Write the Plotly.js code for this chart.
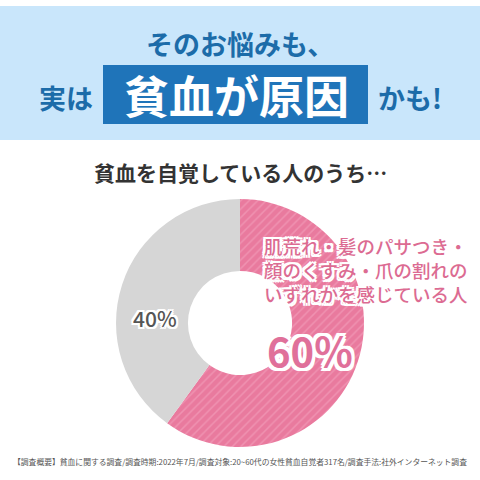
<!DOCTYPE html>
<html>
<head>
<meta charset="utf-8">
<script src="https://cdn.plot.ly/plotly-3.0.1.min.js"></script>
<style>
  html, body { margin: 0; padding: 0; background: #ffffff; }
  #chart { width: 480px; height: 480px; }
</style>
</head>
<body>
<div id="chart"></div>
<script>
// Survey result: share of self-aware anemia respondents feeling symptoms
const categories = [
  "肌荒れ・髪のパサつき・顔のくすみ・爪の割れのいずれかを感じている人",
  "その他"
];
const values = [60, 40];
const sliceColors = ["#e97a9e", "#d6d6d6"];
const symptomLines = ["肌荒れ・髪のパサつき・", "顔のくすみ・爪の割れの", "いずれかを感じている人"];

const headline1 = "そのお悩みも、";
const headlinePre = "実は";
const headlineKey = "貧血が原因";
const headlinePost = "かも!";
const subtitle = "貧血を自覚している人のうち…";
const footnote = "【調査概要】貧血に関する調査/調査時期:2022年7月/調査対象:20~60代の女性貧血自覚者317名/調査手法:社外インターネット調査";

const JP = "Noto Sans CJK JP, Noto Sans, sans-serif";
const outline = (w, c) => [
  `${w}px 0 0 ${c}`, `-${w}px 0 0 ${c}`, `0 ${w}px 0 ${c}`, `0 -${w}px 0 ${c}`,
  `${w}px ${w}px 0 ${c}`, `-${w}px ${w}px 0 ${c}`, `${w}px -${w}px 0 ${c}`, `-${w}px -${w}px 0 ${c}`
].join(", ");

const trace = {
  type: "pie",
  labels: categories,
  values: values,
  sort: false,
  direction: "clockwise",
  rotation: 0,
  hole: 0.42,
  textinfo: "none",
  hoverinfo: "label+percent",
  showlegend: false,
  marker: {
    colors: sliceColors,
    line: { width: 0 },
    pattern: {
      shape: ["/", ""],
      fgcolor: ["#f5a9c3", "#d6d6d6"],
      bgcolor: sliceColors,
      fillmode: "overlay",
      size: 6,
      solidity: 0.25
    }
  },
  domain: { x: [0.2417, 0.7583], y: [0.0688, 0.5854] }
};

const annotations = [
  { text: headline1, x: 240, y: 43, font: { family: JP, size: 27, color: "#1c6ca9", weight: 700 } },
  { text: headlinePre, x: 66, y: 98, font: { family: JP, size: 27, color: "#1c6ca9", weight: 700 } },
  { text: headlineKey, x: 236, y: 95, font: { family: JP, size: 45, color: "#ffffff", weight: 700 } },
  { text: headlinePost, x: 410, y: 98, font: { family: JP, size: 27, color: "#1c6ca9", weight: 700 } },
  { text: subtitle, x: 240, y: 172, font: { family: JP, size: 21, color: "#333333", weight: 700 } },
  { text: `${values[1]}%`, x: 155, y: 318,
    font: { family: JP, size: 21, color: "#555555", weight: 500, shadow: outline(2, "#ffffff") } },
  { text: symptomLines.join("<br>"), x: 262, y: 270, xanchor: "left", align: "left",
    font: { family: JP, size: 18.5, color: "#dc6b92", weight: 500, shadow: outline(2.5, "#ffffff") } },
  { text: `${values[0]}%`, x: 265, y: 350, xanchor: "left",
    font: { family: JP, size: 40, color: "#e0709a", weight: 700, shadow: outline(3, "#ffffff") } },
  { text: footnote, x: 240, y: 461, font: { family: JP, size: 7.8, color: "#555555" } }
].map(a => Object.assign({ xref: "paper", yref: "paper", showarrow: false, xanchor: "center", yanchor: "middle" }, a,
  { x: a.x / 480, y: 1 - a.y / 480 }));

const layout = {
  width: 480,
  height: 480,
  margin: { l: 0, r: 0, t: 0, b: 0 },
  paper_bgcolor: "#ffffff",
  plot_bgcolor: "#ffffff",
  shapes: [
    { type: "rect", xref: "paper", yref: "paper", x0: 0, x1: 1, y0: 1 - 140 / 480, y1: 1 - 6 / 480,
      fillcolor: "#c9e6fb", line: { width: 0 }, layer: "below" },
    { type: "rect", xref: "paper", yref: "paper", x0: 103 / 480, x1: 368 / 480, y0: 1 - 124 / 480, y1: 1 - 65 / 480,
      fillcolor: "#1f74b9", line: { width: 0 }, layer: "below" }
  ],
  annotations: annotations
};

Plotly.newPlot("chart", [trace], layout, { displayModeBar: false, staticPlot: true });
</script>
</body>
</html>
